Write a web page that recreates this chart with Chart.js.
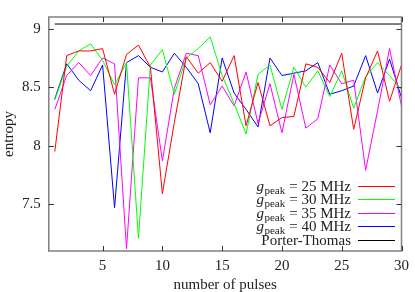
<!DOCTYPE html>
<html>
<head>
<meta charset="utf-8">
<script src="https://cdn.jsdelivr.net/npm/chart.js@4"></script>
<style>
  html, body { margin: 0; padding: 0; background: #fff; }
  #wrap { width: 415px; height: 292px; }
</style>
</head>
<body>
<div id="wrap"><canvas id="entropyChart" width="415" height="292"></canvas></div>
<script>
// ── Data ──
const pulses = [1, 2, 3, 4, 5, 6, 7, 8, 9, 10, 11, 12, 13, 14, 15,
                16, 17, 18, 19, 20, 21, 22, 23, 24, 25, 26, 27, 28, 29, 30];
const g25 = [7.95, 8.77, 8.81, 8.81, 8.83, 8.44, 8.78, 8.86, 8.67, 7.59,
             8.20, 8.76, 8.62, 8.71, 8.55, 8.77, 8.17, 8.54, 8.17, 8.24,
             8.25, 8.70, 8.67, 8.54, 8.79, 8.14, 8.58, 8.81, 8.38, 8.69];
const g30 = [8.39, 8.68, 8.81, 8.87, 8.73, 8.52, 8.71, 7.21, 8.69, 8.82,
             8.44, 8.75, 8.83, 8.93, 8.60, 8.36, 8.10, 8.61, 8.69, 8.31,
             8.67, 8.50, 8.64, 8.42, 8.64, 8.32, 8.59, 8.71, 8.60, 8.48];
const g35 = [8.31, 8.60, 8.71, 8.60, 8.75, 8.70, 7.12, 8.58, 8.58, 7.87,
             8.49, 8.79, 8.77, 8.35, 8.51, 8.34, 8.63, 8.19, 8.53, 8.11,
             8.61, 8.15, 8.23, 8.69, 8.53, 8.56, 7.79, 8.30, 8.83, 8.34];
const g40 = [8.40, 8.70, 8.56, 8.47, 8.69, 7.47, 8.71, 8.77, 8.67, 8.63,
             8.79, 8.67, 8.53, 8.11, 8.75, 8.45, 8.31, 8.16, 8.75, 8.60,
             8.62, 8.64, 8.71, 8.44, 8.47, 8.51, 8.77, 8.45, 8.74, 8.41];
const ptX = [1, 30];
const ptY = [9.04, 9.04];

const xTicks = [5, 10, 15, 20, 25, 30];
const yTicks = [7.5, 8, 8.5, 9];
const seriesMHz = ['25', '30', '35', '40'];

const SERIF = "'Liberation Serif', 'DejaVu Serif', serif";
const FRAME = '#808080';

function pts(xs, ys) { return xs.map((x, i) => ({ x: x, y: ys[i] })); }

function lineSet(label, xs, ys, color) {
  return {
    label: label,
    data: pts(xs, ys),
    borderColor: color,
    borderWidth: 1,
    pointRadius: 0,
    tension: 0,
    fill: false,
  };
}

// ── Frame, inward ticks (mirrored) and gnuplot-style key ──
const framePlugin = {
  id: 'frame',
  afterDraw(chart) {
    const { ctx, chartArea: a, scales } = chart;
    ctx.save();
    ctx.strokeStyle = FRAME;
    ctx.lineWidth = 1.5;
    ctx.strokeRect(a.left, a.top, a.right - a.left, a.bottom - a.top);

    ctx.strokeStyle = '#333';
    ctx.lineWidth = 1;
    ctx.beginPath();
    xTicks.forEach(v => {
      const px = Math.round(scales.x.getPixelForValue(v)) + 0.5;
      ctx.moveTo(px, a.bottom); ctx.lineTo(px, a.bottom - 5);
      ctx.moveTo(px, a.top);    ctx.lineTo(px, a.top + 5);
    });
    yTicks.forEach(v => {
      const py = Math.round(scales.y.getPixelForValue(v)) + 0.5;
      ctx.moveTo(a.left, py);  ctx.lineTo(a.left + 5, py);
      ctx.moveTo(a.right, py); ctx.lineTo(a.right - 5, py);
    });
    ctx.stroke();

    // key
    const textRight = 351, sx0 = 358, sx1 = 395;
    const rows = [185.7, 199.3, 212.7, 226.3, 240];
    ctx.textBaseline = 'alphabetic';
    chart.data.datasets.forEach((ds, i) => {
      const y = rows[i];
      const base = y + 5;
      ctx.fillStyle = '#222';
      ctx.textAlign = 'right';
      ctx.font = '15px ' + SERIF;
      if (i < 4) {
        const rest = '= ' + seriesMHz[i] + ' MHz';
        ctx.fillText(rest, textRight, base);
        let x = textRight - ctx.measureText(rest).width - 4;
        ctx.font = '11px ' + SERIF;
        ctx.fillText('peak', x, base + 3);
        x -= ctx.measureText('peak').width + 0.5;
        ctx.font = 'italic 15px ' + SERIF;
        ctx.fillText('g', x, base);
      } else {
        ctx.fillText('Porter-Thomas', textRight, base);
      }
      ctx.strokeStyle = ds.borderColor;
      ctx.lineWidth = 1;
      ctx.beginPath();
      ctx.moveTo(sx0, Math.round(y) + 0.5);
      ctx.lineTo(sx1, Math.round(y) + 0.5);
      ctx.stroke();
    });
    ctx.restore();
  }
};

new Chart(document.getElementById('entropyChart'), {
  type: 'line',
  data: {
    datasets: [
      lineSet('g25', pulses, g25, '#ff0000'),
      lineSet('g30', pulses, g30, '#00ff00'),
      lineSet('g35', pulses, g35, '#ff00ff'),
      lineSet('g40', pulses, g40, '#0000ff'),
      lineSet('Porter-Thomas', ptX, ptY, '#000000'),
    ]
  },
  options: {
    responsive: false,
    animation: false,
    layout: { padding: { left: 0, top: 1.5, right: 8.4, bottom: 0 } },
    plugins: { legend: { display: false }, tooltip: { enabled: false } },
    scales: {
      x: {
        type: 'linear',
        min: 0.5, max: 30,
        afterFit: s => { s.height = 41; },
        afterBuildTicks: s => { s.ticks = xTicks.map(v => ({ value: v })); },
        grid: { display: false, drawTicks: false },
        border: { display: false },
        ticks: {
          color: '#222', padding: 6, maxRotation: 0,
          font: { family: SERIF, size: 15 },
          callback: v => String(v)
        },
        title: {
          display: true, text: 'number of pulses', color: '#222',
          padding: { top: 0, bottom: -2 }, font: { family: SERIF, size: 15 }
        }
      },
      y: {
        type: 'linear',
        min: 7.1, max: 9.1,
        afterFit: s => { s.width = 48.8; },
        afterBuildTicks: s => { s.ticks = yTicks.map(v => ({ value: v })); },
        grid: { display: false, drawTicks: false },
        border: { display: false },
        ticks: {
          color: '#222', padding: 8,
          font: { family: SERIF, size: 15 },
          callback: v => String(v)
        },
        title: {
          display: true, text: 'entropy', color: '#222',
          padding: { top: 0, bottom: 0 }, font: { family: SERIF, size: 15 }
        }
      }
    }
  },
  plugins: [framePlugin]
});
</script>
</body>
</html>
